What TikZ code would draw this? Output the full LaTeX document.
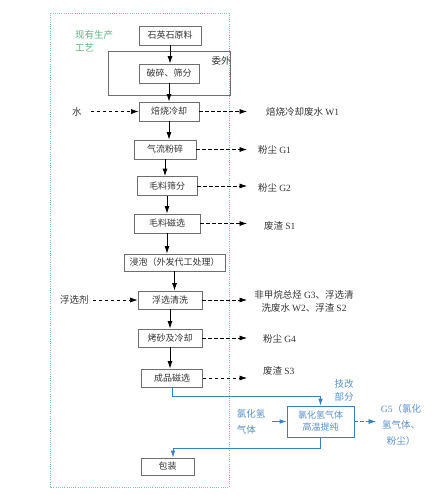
\documentclass[tikz,border=0pt]{standalone}
\usepackage{fontspec}
\setmainfont{Liberation Serif}
\newfontfamily\cjk{Noto Sans CJK SC}
\usepackage{tikz}
\usetikzlibrary{arrows.meta,calc,positioning}
\definecolor{grisbord}{HTML}{6E6E6E}
\definecolor{texte}{HTML}{333333}
\definecolor{vertlim}{HTML}{7CC7A4}
\definecolor{verttxt}{HTML}{5DB57E}
\definecolor{bleu}{HTML}{3C7FC0}
\definecolor{bleutxt}{HTML}{5B8FC9}

\begin{document}
\begin{tikzpicture}[x=1pt,y=-1pt,
    etape/.style={draw=grisbord, line width=.8pt, text=texte, font=\cjk\fontsize{9}{12}\selectfont, minimum height=19pt, inner sep=1pt},
    lbl/.style={text=texte, font=\cjk\fontsize{9.5}{13}\selectfont, inner sep=0pt},
    flux/.style={-{Latex[length=7.5pt,width=5pt]}, line width=.8pt},
    rejet/.style={-{Latex[length=7.5pt,width=5pt]}, line width=.6pt, dash pattern=on 3.5pt off 2.5pt},
    bleuflux/.style={-{Latex[length=7pt,width=4.5pt]}, draw=bleu, line width=.8pt}]
    \useasboundingbox (0,0) rectangle (439,495);

    % cadre existant et sous-traitance
    \draw[vertlim, line width=.6pt, dash pattern=on 1pt off 1.2pt] (50,13) rectangle (229,487);
    \draw[grisbord, line width=.8pt] (108,51) rectangle (230,95);
    \node[lbl, text=verttxt, align=left, anchor=north west] (exist) at (75,30) {现有生产\\工艺};
    \node[lbl] (wai) at (221,61) {委外};

    \node[etape, minimum width=62pt] (brut) at (170,35.5) {石英石原料};
    \node[etape, minimum width=60pt] (broy) at (169,73.5) {破碎、筛分};
    \node[etape, minimum width=60pt] (grill) at (169,111.5) {焙烧冷却};
    \node[etape, minimum width=62pt] (jet) at (165,149.5) {气流粉碎};
    \node[etape, minimum width=60pt] (crib) at (167,186) {毛料筛分};
    \node[etape, minimum width=66pt] (mag1) at (167,223.5) {毛料磁选};
    \node[etape, minimum width=101pt, minimum height=17pt] (tremp) at (174.5,262.5) {浸泡（外发代工处理）};
    \node[etape, minimum width=64pt, minimum height=18pt] (flot) at (170,300) {浮选清洗};
    \node[etape, minimum width=64pt, minimum height=18pt] (four) at (170,338) {烤砂及冷却};
    \node[etape, minimum width=61pt, minimum height=18pt] (mag2) at (172,378) {成品磁选};
    \node[etape, minimum width=53pt, minimum height=17pt] (emb) at (167.5,466.5) {包装};
    \node[etape, draw=bleu, text=bleutxt, align=center, minimum width=67pt, minimum height=31pt, font=\cjk\fontsize{9}{12}\selectfont] (purif) at (320.5,421.5) {氯化氢气体\\高温提纯};

    \foreach \a/\b in {brut/broy, broy/grill, grill/jet, jet/crib, crib/mag1, mag1/tremp, tremp/flot, flot/four, four/mag2}
        \draw[flux] (\a.south) -- (\a.south |- \b.north);

    % rejets
    \coordinate (bord) at (247,0);
    \foreach \n in {grill, jet, crib, mag1, flot, four, mag2}
        \draw[rejet] (\n.east) -- (\n.east -| bord);
    \node[lbl, anchor=west] (w1) at (266,112) {焙烧冷却废水 {\rmfamily W1}};
    \node[lbl, anchor=west] (g1) at (258,150) {粉尘 {\rmfamily G1}};
    \node[lbl, anchor=west] (g2) at (258,188) {粉尘 {\rmfamily G2}};
    \node[lbl, anchor=west] (s1) at (264,226) {废渣 {\rmfamily S1}};
    \node[lbl, align=center] (g3) at (304,301.5) {非甲烷总烃 {\rmfamily G3}、浮选清\\洗废水 {\rmfamily W2}、浮渣 {\rmfamily S2}};
    \node[lbl, anchor=west] (g4) at (263,339) {粉尘 {\rmfamily G4}};
    \node[lbl, anchor=west] (s3) at (263,371) {废渣 {\rmfamily S3}};

    % entrees
    \node[lbl, anchor=west] (eau) at (72,111.5) {水};
    \draw[rejet] ([xshift=9pt]eau.east) -- (grill.west);
    \node[lbl, anchor=west] (agent) at (60,300) {浮选剂};
    \draw[rejet] ([xshift=4pt]agent.east) -- (flot.west);

    % partie technique
    \node[lbl, text=bleutxt, align=center] (jigai) at (344,390.5) {技改\\部分};
    \node[lbl, text=bleutxt, align=left, font=\cjk\fontsize{9.5}{16}\selectfont] (hclin) at (251,421.5) {氯化氢\\气体};
    \draw[bleuflux] ([xshift=7pt]hclin.east) -- (purif.west);
    \draw[bleuflux] (mag2.south) -- ++(0,9) -| (purif.north);
    \draw[bleuflux] (purif.south) -- ++(0,11) -| ([xshift=5.5pt]emb.north);
    \coordinate (g5bout) at (376,0);
    \draw[rejet, draw=bleu] (purif.east) -- (purif.east -| g5bout);
    \node[lbl, text=bleutxt, align=center, font=\cjk\fontsize{9.5}{16}\selectfont] (g5) at (401,425) {{\rmfamily G5}（氯化\\氢气体、\\粉尘）};
\end{tikzpicture}
\end{document}
